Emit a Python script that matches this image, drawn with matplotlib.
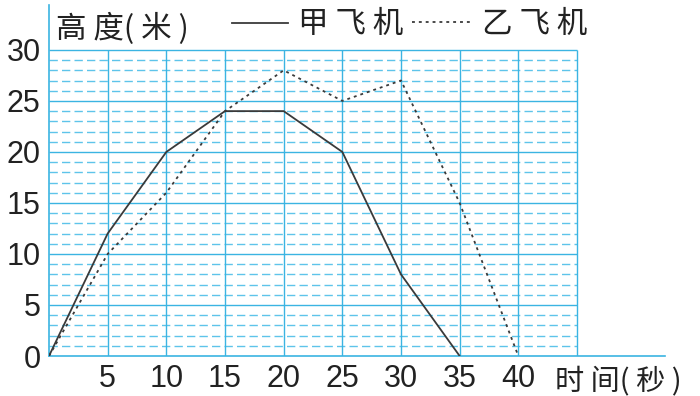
import numpy as np
import matplotlib
matplotlib.use('Agg')
import matplotlib.pyplot as plt

plt.rcParams['font.family'] = ['Noto Sans CJK SC', 'DejaVu Sans']

# time (s)
t = [0, 5, 10, 15, 20, 25, 30, 35, 40]
# heights (m)
jia = [0, 12, 20, 24, 24, 20, 8, 0]
yi = [0, 10, 16, 24, 28, 25, 27, 15, 0]

x_ticks = [5, 10, 15, 20, 25, 30, 35, 40]
y_ticks = [0, 5, 10, 15, 20, 25, 30]

grid_col = '#3bb4e2'
minor_col = '#5ec4ea'
ink = '#3a3a3a'
txt = '#222222'

fig = plt.figure(figsize=(7, 3.96), dpi=100)
ax = fig.add_axes([49/700, 40/396, 616/700, 351/396])
ax.set_xlim(0, 52.5)
ax.set_ylim(0, 34.4)

# grid paper
gx_max = 45
for v in range(1, 30):
    if v % 5:
        ax.hlines(v, 0, gx_max, colors=minor_col, lw=1.0, linestyles=(0, (6, 3)), zorder=1)
for v in range(5, 31, 5):
    ax.hlines(v, 0, gx_max, colors=grid_col, lw=1.0, zorder=1)
for v in range(5, gx_max + 1, 5):
    ax.vlines(v, 0, 30, colors=grid_col, lw=1.0, zorder=1)

ax.plot(t[:len(jia)], jia, color=ink, lw=1.3, zorder=3)
ax.plot(t, yi, color=ink, lw=1.3, linestyle=(0, (1.6, 2.2)), zorder=3)

for s in ['top', 'right']:
    ax.spines[s].set_visible(False)
for s in ['left', 'bottom']:
    ax.spines[s].set_color(grid_col)
    ax.spines[s].set_linewidth(1.2)

ax.set_xticks(x_ticks)
ax.set_yticks(y_ticks)
ax.tick_params(length=0, labelsize=22, colors=txt, pad=6)
for lab in ax.get_xticklabels() + ax.get_yticklabels():
    lab.set_family(['Liberation Sans', 'DejaVu Sans'])

# titles and legend as text
fig.text(56/700, 1 - 29/396, '高 度( 米 )', fontsize=22, color=txt, va='center', ha='left')
fig.lines.append(plt.Line2D([232/700, 288/700], [1 - 23/396, 1 - 23/396], color=ink, lw=1.3,
                            transform=fig.transFigure))
fig.text(298/700, 1 - 24/396, '甲 飞 机', fontsize=22, color=txt, va='center', ha='left')
fig.lines.append(plt.Line2D([412/700, 470/700], [1 - 22/396, 1 - 22/396], color=ink, lw=1.3,
                            linestyle=(0, (1.6, 2.2)), transform=fig.transFigure))
fig.text(482/700, 1 - 24/396, '乙 飞 机', fontsize=22, color=txt, va='center', ha='left')
fig.text(555/700, 1 - 381/396, '时 间( 秒 )', fontsize=21, color=txt, va='center', ha='left')

fig.savefig('out.png', dpi=100, facecolor='white')
